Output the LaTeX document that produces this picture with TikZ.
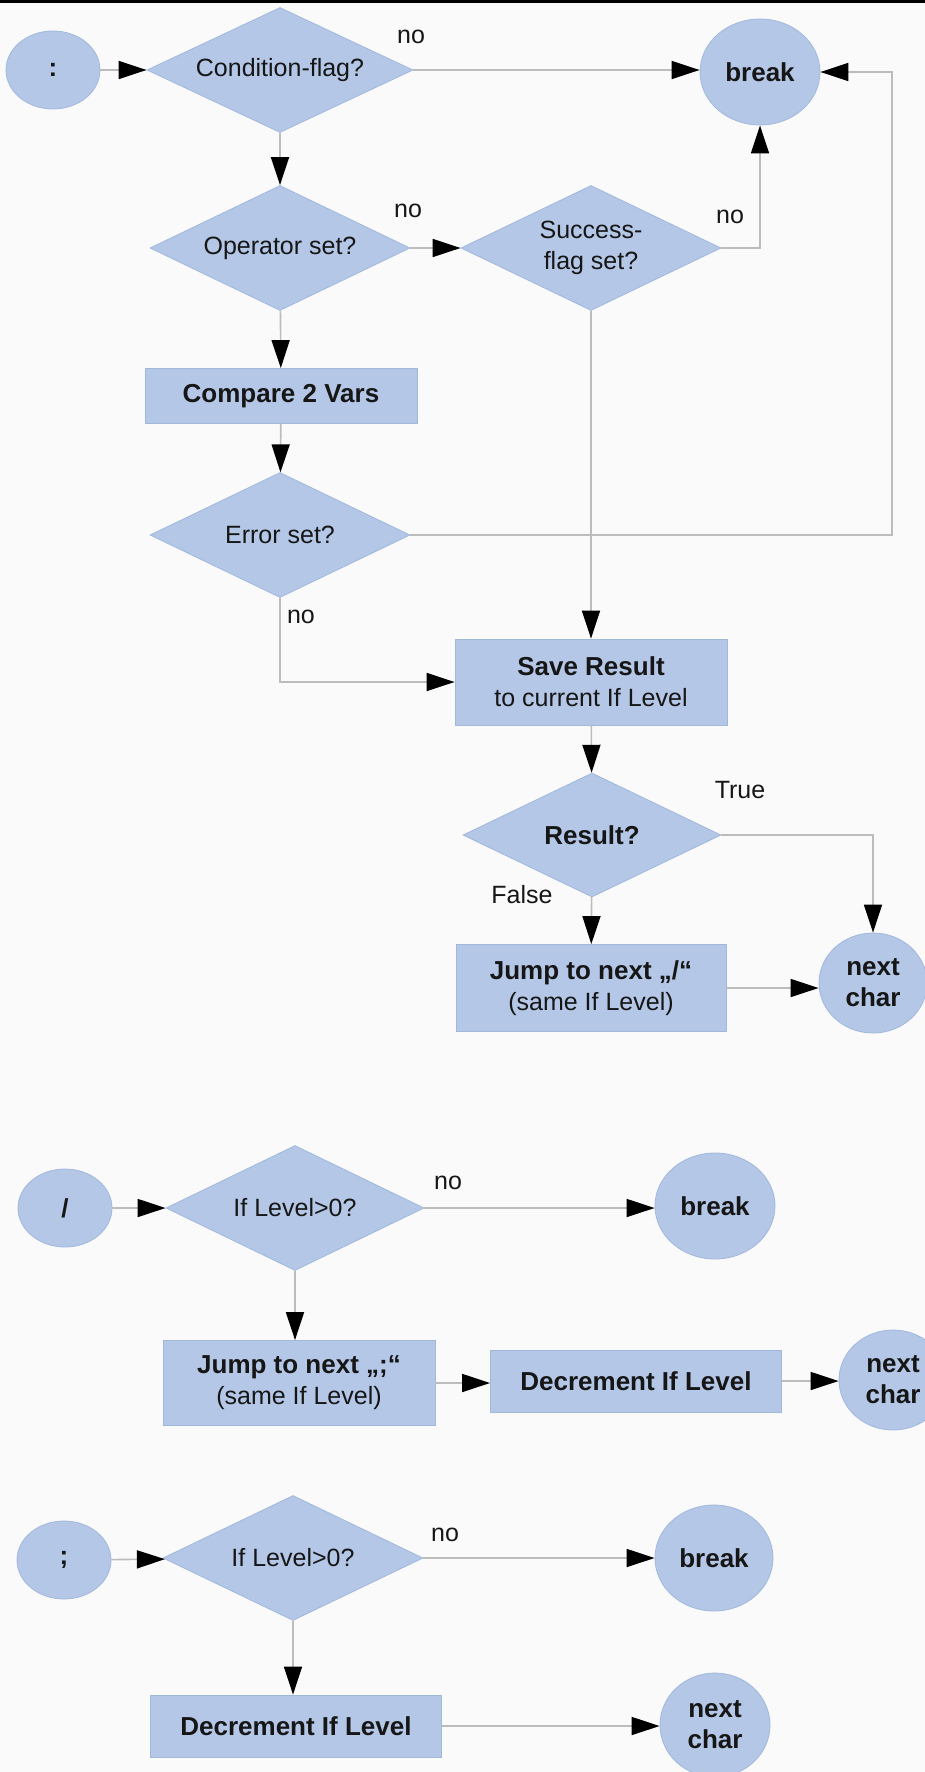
\documentclass[tikz,border=0pt]{standalone}
\usepackage{fontspec}
\setmainfont{Liberation Sans}
\usetikzlibrary{shapes.geometric,arrows.meta}
\definecolor{boxfill}{RGB}{180,199,231}
\definecolor{boxedge}{RGB}{160,184,220}
\definecolor{wire}{RGB}{188,188,188}
\definecolor{ink}{RGB}{22,22,22}
\definecolor{paper}{RGB}{250,250,250}
\newcommand\fcBody{\fontsize{25}{31}\selectfont}
\newcommand\fcBold{\fontsize{26}{31}\selectfont\bfseries}

\begin{document}
\begin{tikzpicture}[x=1pt,y=-1pt,
  every node/.style={font=\fcBody, text=ink},
  base/.style={fill=boxfill, draw=boxedge, line width=0.8pt, inner sep=0pt, align=center},
  decision/.style={base, diamond, shape aspect=2.1, minimum width=260pt, minimum height=125pt},
  process/.style={base, rectangle, minimum width=272pt},
  terminal/.style={base, ellipse, font=\fcBold},
  startmark/.style={terminal, minimum width=94pt, minimum height=78pt},
  endmark/.style={terminal, minimum width=120pt, minimum height=106pt},
  nextmark/.style={terminal, minimum width=108pt, minimum height=100pt},
  flow/.style={draw=wire, line width=1.6pt, -{Triangle[length=28pt,width=18pt,color=black]}},
  note/.style={inner sep=0pt}
]
% page and top rule
\fill[paper] (0,0) rectangle (925,1772);
\clip (0,0) rectangle (925,1772);
\fill[black] (0,0) rectangle (925,3);

% ---- ':' handling ----
\node[startmark] (colon) at (53,70) {:};
\node[decision, minimum width=266pt] (cond) at (280,70) {Condition-flag?};
\node[endmark] (brk1) at (760,72) {break};
\node[decision] (oper) at (280,248) {Operator set?};
\node[decision] (succ) at (591,248) {Success-\\flag set?};
\node[process, minimum height=55pt, font=\fcBold] (cmp) at (281,396) {Compare 2 Vars};
\node[decision] (err) at (280,535) {Error set?};
\node[process, minimum height=86pt] (save) at (591,682) {{\fcBold Save Result}\\to current If Level};
\node[decision, minimum width=258pt, minimum height=124pt, font=\fcBold] (res) at (592,835) {Result?};
\node[process, minimum width=270pt, minimum height=87pt] (jmp1) at (591,988) {{\fcBold Jump to next „/“}\\(same If Level)};
\node[nextmark] (nc1) at (873,983) {next\\char};
\coordinate (errturn) at (892,535);

\draw[flow] (colon) -- (cond);
\draw[flow] (cond.east) -- (cond.east -| brk1.west);
\draw[flow] (cond) -- (oper);
\draw[flow] (oper) -- (succ);
\draw[flow] (succ.east) -| (brk1.south);
\draw[flow] (oper) -- (cmp);
\draw[flow] (cmp) -- (err);
\draw[flow] (err.east) -- (errturn) |- (brk1.east);
\draw[flow] (err.south) |- (save.west);
\draw[flow] (succ.south) -- (save.north);
\draw[flow] (save) -- (res);
\draw[flow] (res.east) -| (nc1.north);
\draw[flow] (res) -- (jmp1);
\draw[flow] (jmp1.east) -- (jmp1.east -| nc1.west);

\node[note] (l1) at (411,37) {no};
\node[note] (l2) at (408,211) {no};
\node[note] (l3) at (730,217) {no};
\node[note] (l4) at (301,617) {no};
\node[note] (l5) at (740,790) {True};
\node[note] (l6) at (522,895) {False};

% ---- '/' handling ----
\node[startmark] (slash) at (65,1208) {/};
\node[decision, minimum width=258pt] (lvl1) at (295,1208) {If Level>0?};
\node[endmark] (brk2) at (715,1206) {break};
\node[process, minimum height=85pt] (jmp2) at (299,1383) {{\fcBold Jump to next „;“}\\(same If Level)};
\node[process, minimum width=291pt, minimum height=62pt, font=\fcBold] (dec1) at (636,1381) {Decrement If Level};
\node[nextmark] (nc2) at (893,1380) {next\\char};

\draw[flow] (slash) -- (lvl1);
\draw[flow] (lvl1.east) -- (lvl1.east -| brk2.west);
\draw[flow] (lvl1.south) -- (lvl1.south |- jmp2.north);
\draw[flow] (jmp2.east) -- (jmp2.east -| dec1.west);
\draw[flow] (dec1.east) -- (dec1.east -| nc2.west);
\node[note] (l7) at (448,1183) {no};

% ---- ';' handling ----
\node[startmark] (semi) at (64,1560) {;};
\node[decision] (lvl2) at (293,1558) {If Level>0?};
\node[endmark, minimum width=118pt] (brk3) at (714,1558) {break};
\node[process, minimum width=291pt, minimum height=62pt, font=\fcBold] (dec2) at (296,1726) {Decrement If Level};
\node[nextmark, minimum width=110pt, minimum height=104pt] (nc3) at (715,1725) {next\\char};

\draw[flow] (semi) -- (lvl2);
\draw[flow] (lvl2) -- (brk3);
\draw[flow] (lvl2.south) -- (lvl2.south |- dec2.north);
\draw[flow] (dec2.east) -- (dec2.east -| nc3.west);
\node[note] (l8) at (445,1535) {no};
\end{tikzpicture}
\end{document}
